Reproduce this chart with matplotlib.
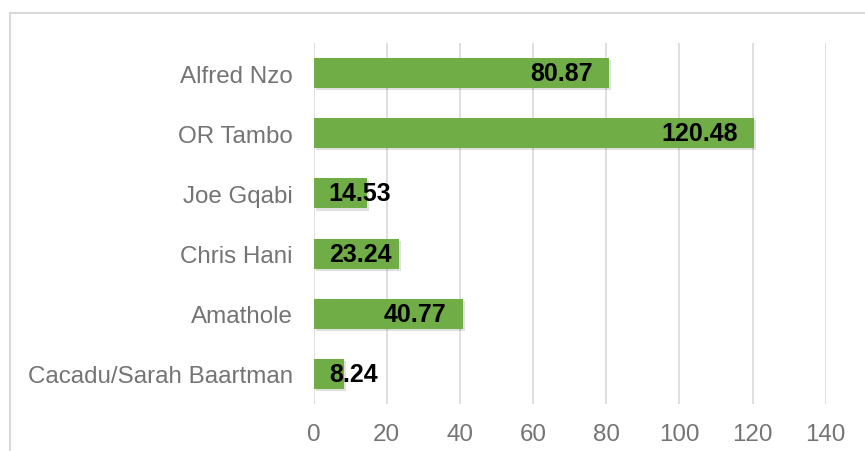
import matplotlib.pyplot as plt
import matplotlib.transforms as mtransforms
from matplotlib.patches import Rectangle

plt.rcParams["font.family"] = ["Liberation Sans", "DejaVu Sans"]

# values
districts = ["Cacadu/Sarah Baartman", "Amathole", "Chris Hani", "Joe Gqabi", "OR Tambo", "Alfred Nzo"]
values = [8.24, 40.77, 23.24, 14.53, 120.48, 80.87]
x_ticks = [0, 20, 40, 60, 80, 100, 120, 140]

BAR_GREEN = "#70AD47"
GRID_GRAY = "#D9D9D9"
TEXT_GRAY = "#747474"

fig = plt.figure(figsize=(8.65, 4.52), dpi=100)
ax = fig.add_axes([313.5 / 865, 1 - 405 / 452, (825.7 - 313.5) / 865, (405 - 44) / 452])

# outer chart border (runs off the right and bottom edges like the source)
fig.patches.append(Rectangle((10 / 865, -0.1), 1.2, 1 - 14 / 452 + 0.1,
                             transform=fig.transFigure, fill=False,
                             edgecolor=GRID_GRAY, linewidth=1.5, zorder=0))

pos = list(range(len(districts)))

# soft drop shadow under the bars
shadow = mtransforms.offset_copy(ax.transData, fig=fig, x=1.5, y=-1.5, units="points")
ax.barh(pos, values, height=0.5, color="#000000", alpha=0.12, transform=shadow, zorder=2)
ax.barh(pos, values, height=0.5, color=BAR_GREEN, zorder=3)

ax.set_xlim(0, 140)
ax.set_ylim(-0.5, len(districts) - 0.5)
ax.set_xticks(x_ticks)
ax.set_yticks(pos)
ax.set_yticklabels(districts)
ax.tick_params(axis="both", length=0, colors=TEXT_GRAY, labelsize=17.4)
ax.tick_params(axis="y", pad=15)
ax.tick_params(axis="x", pad=14)
ax.xaxis.grid(True, color=GRID_GRAY, linewidth=1.2, zorder=0)
ax.set_axisbelow(True)
for sp in ax.spines.values():
    sp.set_visible(False)

# data labels: inside end, but pushed to the left edge when they do not fit
fig.canvas.draw()
renderer = fig.canvas.get_renderer()
left_px = ax.transData.transform((0, 0))[0]
for y, v in zip(pos, values):
    t = ax.annotate(f"{v:.2f}", xy=(v, y), xytext=(-12, 0), textcoords="offset points",
                    ha="right", va="center", fontsize=18, fontweight="bold",
                    color="black", zorder=4)
    bb = t.get_window_extent(renderer)
    if bb.x0 < left_px + 15:
        t.remove()
        ax.annotate(f"{v:.2f}", xy=(0, y), xytext=(11, 0), textcoords="offset points",
                    ha="left", va="center", fontsize=18, fontweight="bold",
                    color="black", zorder=4)

fig.savefig("out.png", dpi=100)
